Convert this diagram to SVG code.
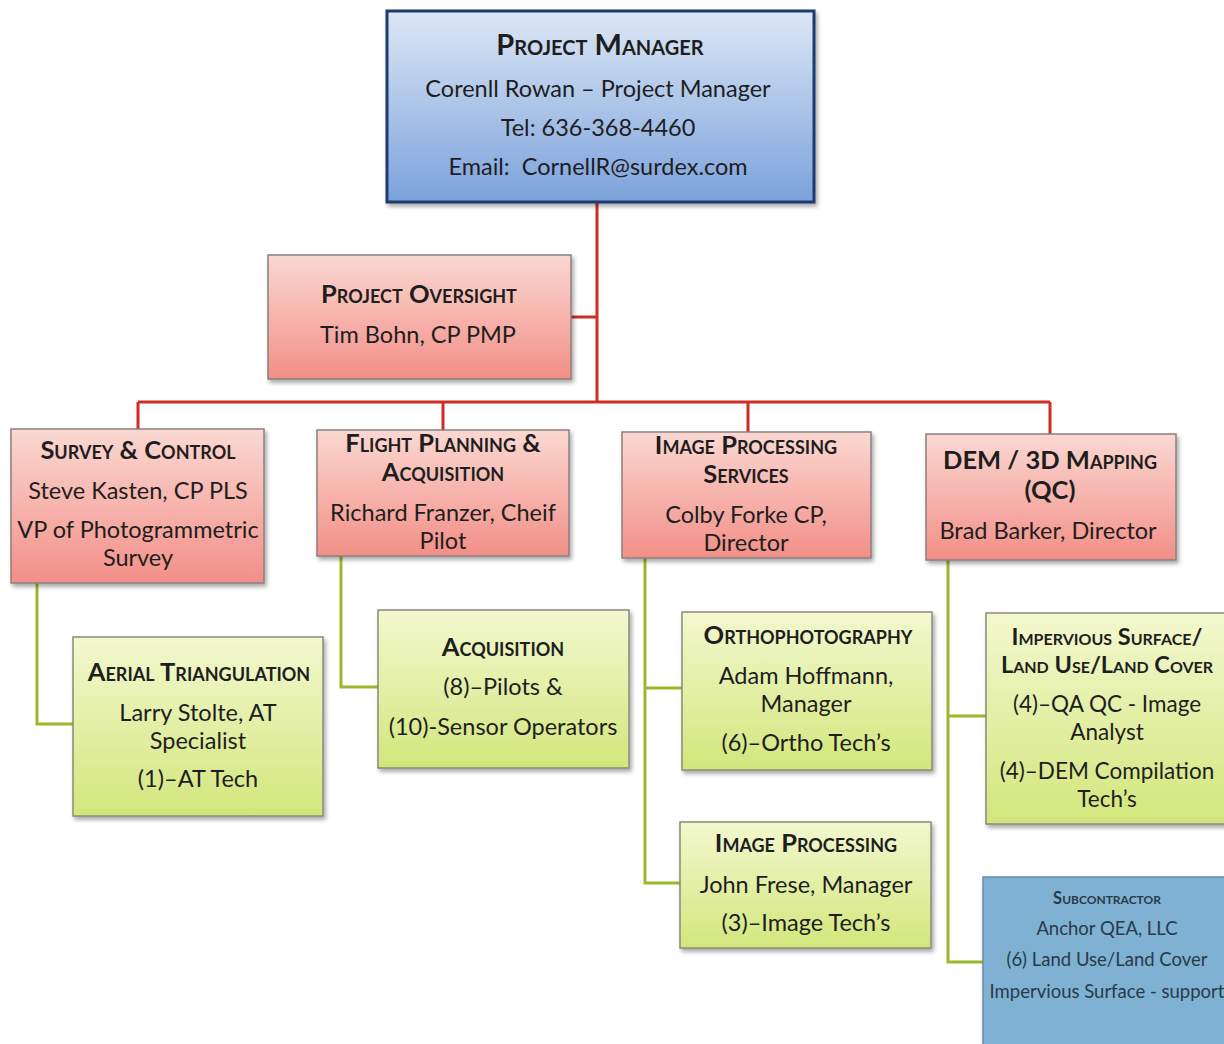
<svg xmlns="http://www.w3.org/2000/svg" width="1224" height="1044" viewBox="0 0 1224 1044">
<defs>
<linearGradient id="gBlue" x1="0" y1="0" x2="0" y2="1"><stop offset="0" stop-color="#dde7f5"/><stop offset="1" stop-color="#7ba2dc"/></linearGradient>
<linearGradient id="gRed" x1="0" y1="0" x2="0" y2="1"><stop offset="0" stop-color="#fbd8d2"/><stop offset="1" stop-color="#f28f87"/></linearGradient>
<linearGradient id="gGreen" x1="0" y1="0" x2="0" y2="1"><stop offset="0" stop-color="#f3f8cf"/><stop offset="1" stop-color="#d3e67c"/></linearGradient>
<filter id="sh" x="-10%" y="-10%" width="125%" height="130%"><feDropShadow dx="2" dy="3" stdDeviation="2" flood-color="#000" flood-opacity="0.35"/></filter>
<style>
text{font-family:Lato,"Open Sans","Liberation Sans",sans-serif;fill:#1e1e1e;text-anchor:middle;font-size:23.5px}
.h{font-weight:bold;font-variant:small-caps;font-size:25.5px}
.blue{fill:url(#gBlue);stroke:#1f3a6e;stroke-width:3}
.red{fill:url(#gRed);stroke:#8a8080;stroke-width:1.5}
.green{fill:url(#gGreen);stroke:#8a8a78;stroke-width:1.5}
.sub{fill:#7fb1d3;stroke:#6a8fa8;stroke-width:1.5}
.st{fill:#2a3a48;font-size:18.5px}
.imp text{font-size:22.5px}
.imp text.h{font-size:23.5px}
.rl{stroke:#d12b26;stroke-width:3;fill:none}
.gl{stroke:#9ab92a;stroke-width:3;fill:none}
</style>
</defs>
<rect width="1224" height="1044" fill="#ffffff"/>
<g id="connectors">
<path class="rl" d="M597 202V402M571 317H597M138 402H1050M138 402V429M443 402V430M748 402V432M1050 402V434"/>
<path class="gl" d="M37 583V724H73M341 556V687H378M645 558V883H680M645 688H682M948 560V962H983M948 716H986"/>
</g>
<g id="pm"><rect class="blue" x="387" y="11" width="427" height="191" filter="url(#sh)"/>
<text class="h" x="600" y="55" style="font-size:29px">Project Manager</text>
<text x="598" y="97">Corenll Rowan – Project Manager</text>
<text x="598" y="136">Tel: 636-368-4460</text>
<text x="598" y="175">Email:&#160; CornellR@surdex.com</text></g>
<g id="oversight"><rect class="red" x="268" y="255" width="303" height="124" filter="url(#sh)"/>
<text class="h" x="419" y="303">Project Oversight</text>
<text x="418" y="343">Tim Bohn, CP PMP</text></g>
<g id="survey"><rect class="red" x="11" y="429" width="253" height="154" filter="url(#sh)"/>
<text class="h" x="138" y="459">Survey &amp; Control</text>
<text x="138" y="499">Steve Kasten, CP PLS</text>
<text x="138" y="538">VP of Photogrammetric</text>
<text x="138" y="566">Survey</text></g>
<g id="flight"><rect class="red" x="317" y="430" width="252" height="126" filter="url(#sh)"/>
<text class="h" x="443" y="452">Flight Planning &amp;</text>
<text class="h" x="443" y="481">Acquisition</text>
<text x="443" y="521">Richard Franzer, Cheif</text>
<text x="443" y="549">Pilot</text></g>
<g id="ips"><rect class="red" x="622" y="432" width="249" height="126" filter="url(#sh)"/>
<text class="h" x="746" y="454">Image Processing</text>
<text class="h" x="746" y="483">Services</text>
<text x="746" y="523">Colby Forke CP,</text>
<text x="746" y="551">Director</text></g>
<g id="dem"><rect class="red" x="926" y="434" width="250" height="126" filter="url(#sh)"/>
<text class="h" x="1050" y="469">DEM / 3D Mapping</text>
<text class="h" x="1050" y="499">(QC)</text>
<text x="1048" y="539">Brad Barker, Director</text></g>
<g id="aerial"><rect class="green" x="73" y="637" width="250" height="179" filter="url(#sh)"/>
<text class="h" x="199" y="681">Aerial Triangulation</text>
<text x="198" y="721">Larry Stolte, AT</text>
<text x="198" y="749">Specialist</text>
<text x="198" y="787">(1)–AT Tech</text></g>
<g id="acq"><rect class="green" x="378" y="610" width="251" height="158" filter="url(#sh)"/>
<text class="h" x="503" y="656">Acquisition</text>
<text x="503" y="695">(8)–Pilots &amp;</text>
<text x="503" y="735">(10)-Sensor Operators</text></g>
<g id="ortho"><rect class="green" x="682" y="612" width="250" height="158" filter="url(#sh)"/>
<text class="h" x="808" y="644">Orthophotography</text>
<text x="806" y="684">Adam Hoffmann,</text>
<text x="806" y="712">Manager</text>
<text x="806" y="751">(6)–Ortho Tech’s</text></g>
<g id="imgproc"><rect class="green" x="680" y="822" width="251" height="126" filter="url(#sh)"/>
<text class="h" x="806" y="852">Image Processing</text>
<text x="806" y="893">John Frese, Manager</text>
<text x="806" y="931">(3)–Image Tech’s</text></g>
<g id="impervious" class="imp"><rect class="green" x="986" y="613" width="250" height="211" filter="url(#sh)"/>
<text class="h" x="1107" y="645">Impervious Surface/</text>
<text class="h" x="1107" y="673">Land Use/Land Cover</text>
<text x="1107" y="712">(4)–QA QC - Image</text>
<text x="1107" y="740">Analyst</text>
<text x="1107" y="779">(4)–DEM Compilation</text>
<text x="1107" y="807">Tech’s</text></g>
<g id="subcontractor"><rect class="sub" x="983" y="877" width="260" height="180" filter="url(#sh)"/>
<text class="st" x="1107" y="904" style="font-size:16.5px;font-weight:bold;font-variant:small-caps">Subcontractor</text>
<text class="st" x="1107" y="935">Anchor QEA, LLC</text>
<text class="st" x="1107" y="966">(6) Land Use/Land Cover</text>
<text class="st" x="1107" y="998">Impervious Surface - support</text></g>
</svg>
